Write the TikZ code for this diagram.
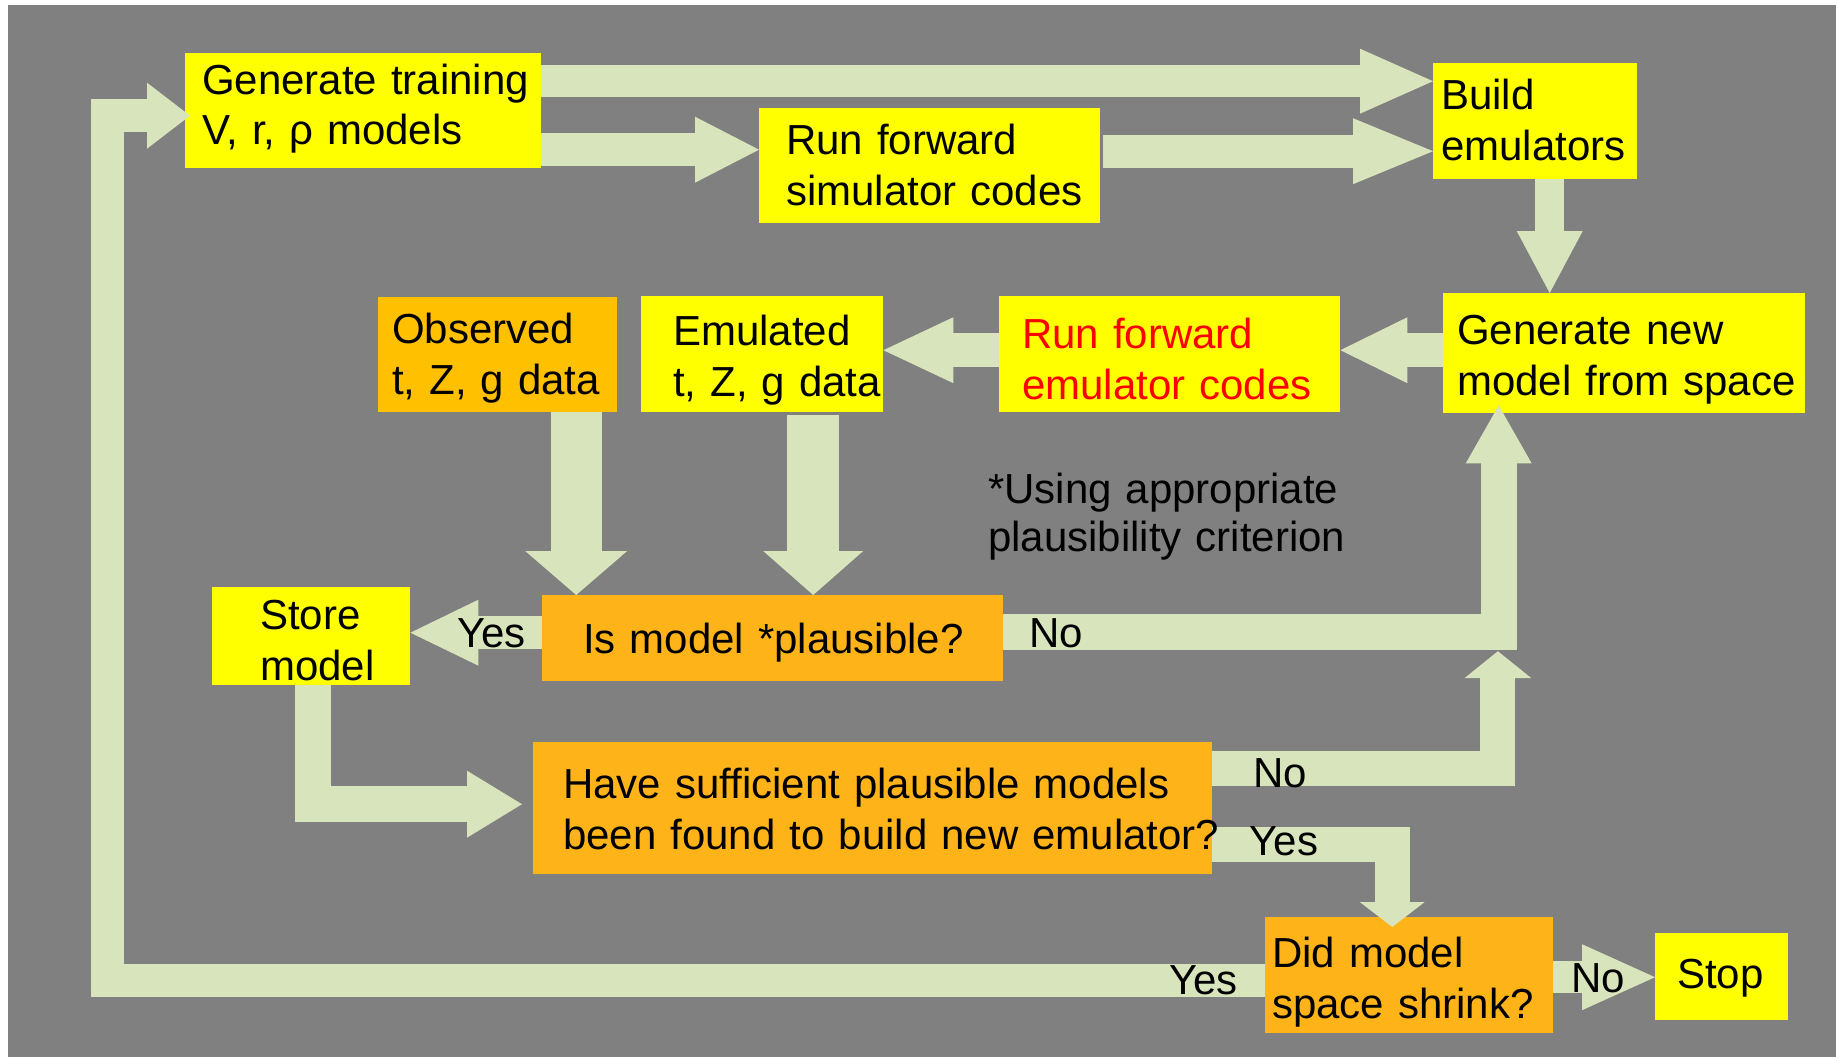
\documentclass[tikz,border=0pt]{standalone}
\usepackage{fontspec}
\setmainfont{Liberation Sans}
\usetikzlibrary{arrows.meta,calc}
\definecolor{bgc}{RGB}{128,128,128}
\definecolor{arrowc}{RGB}{216,228,188}
\definecolor{yel}{RGB}{255,255,0}
\definecolor{orgA}{RGB}{255,192,0}
\definecolor{orgB}{RGB}{254,180,24}
\definecolor{redt}{RGB}{255,0,0}
\tikzset{
  boxbase/.style={draw=none, inner sep=0pt, anchor=north west},
  ybox/.style={boxbase, fill=yel},
  obox/.style={boxbase, fill=orgA},
  qbox/.style={boxbase, fill=orgB},
  txt/.style={anchor=base west, inner sep=0pt, text width=800pt, align=left,
              font=\fontsize{42}{51}\selectfont, text=black},
  bigarrow/.style={draw=arrowc, line width=#1pt, line join=miter, line cap=butt},
  head/.style 2 args={-{Triangle[length=#1pt, width=#2pt, line width=0pt]}},
}
\begin{document}
\begin{tikzpicture}[x=1pt,y=-1pt]
\useasboundingbox (0,0) rectangle (1839,1057);
\fill[white] (0,0) rectangle (1839,1057);
\fill[bgc] (8,5) rectangle (1836,1057);

% boxes
\node[ybox, minimum width=356, minimum height=115] (gen) at (185,53) {};
\node[ybox, minimum width=341, minimum height=115] (sim) at (759,108) {};
\node[ybox, minimum width=204, minimum height=116] (build) at (1433,63) {};
\node[ybox, minimum width=362, minimum height=120] (gnew) at (1443,293) {};
\node[ybox, minimum width=341, minimum height=116] (remu) at (999,296) {};
\node[ybox, minimum width=242, minimum height=116] (emul) at (641,296) {};
\node[obox, minimum width=239, minimum height=115] (obs) at (378,297) {};
\node[ybox, minimum width=198, minimum height=98] (store) at (212,587) {};
\node[qbox, minimum width=461, minimum height=86] (ismod) at (542,595) {};
\node[qbox, minimum width=679, minimum height=132] (have) at (533,742) {};
\node[qbox, minimum width=288, minimum height=116] (did) at (1265,917) {};
\node[ybox, minimum width=133, minimum height=87] (stop) at (1655,933) {};

% connectors
\coordinate (a1) at ($(gen.east)+(0,-29.5)$);
\draw[bigarrow=32, head={73}{65}] (a1) -- (a1 -| build.west);
\coordinate (a2) at ($(gen.east)+(0,39)$);
\draw[bigarrow=33, head={64}{66}] (a2) -- (a2 -| sim.west);
\coordinate (a3) at ($(sim.east)+(3,-14.5)$);
\draw[bigarrow=33, head={80}{66}] (a3) -- (a3 -| build.west);
\coordinate (a4) at ($(build.south)+(14.5,0)$);
\draw[bigarrow=29, head={62}{66}] (a4) -- (a4 |- gnew.north);
\coordinate (a5) at ($(gnew.west)+(0,-3)$);
\draw[bigarrow=34, head={67}{66}] (a5) -- (a5 -| remu.east);
\coordinate (a6) at ($(remu.west)+(0,-4)$);
\draw[bigarrow=34, head={70}{66}] (a6) -- (a6 -| emul.east);
\coordinate (a7) at ($(obs.south)+(78.5,0)$);
\draw[bigarrow=51, head={44}{102}] (a7) -- (a7 |- ismod.north);
\coordinate (a8) at ($(emul.south)+(51,3)$);
\draw[bigarrow=52, head={44}{100}] (a8) -- (a8 |- ismod.north);
\coordinate (a9) at ($(ismod.west)+(0,-5.5)$);
\draw[bigarrow=33, head={68}{66}] (a9) -- (a9 -| store.east);
\coordinate (a10) at ($(ismod.east)+(0,-6)$);
\coordinate (b10) at ($(gnew.south)+(-125.5,-8)$);
\draw[bigarrow=36, head={58}{66}] (a10) -| (b10);
\coordinate (a11) at ($(have.east)+(0,-40)$);
\coordinate (b11) at ($(a10)+(494.5,19)$);
\draw[bigarrow=35, head={27}{67}] (a11) -| (b11);
\coordinate (a12) at ($(have.east)+(0,36)$);
\coordinate (b12) at ($(did.north)+(-17,10)$);
\draw[bigarrow=35, head={25}{65}] (a12) -| (b12);
\coordinate (a13) at ($(did.east)+(0,2)$);
\draw[bigarrow=32, head={73}{66}] (a13) -- (a13 -| stop.west);
\coordinate (a14) at ($(did.west)+(0,5)$);
\coordinate (c14) at ($(gen.west)+(-78,5)$);
\coordinate (d14) at ($(gen.west)+(5,5)$);
\draw[bigarrow=33, head={43}{66}] (a14) -| (c14) -- (d14);
\coordinate (a15) at ($(store.south)+(2,0)$);
\coordinate (b15) at ($(have.west)+(-11,-4)$);
\draw[bigarrow=36, head={55}{67}] (a15) |- (b15);

% box texts
\node[txt] (gen-t) at ($(gen.north west)+(17,41)$) {Generate training\\V, r, ρ models};
\node[txt] (sim-t) at ($(sim.north west)+(27,46)$) {Run forward\\simulator codes};
\node[txt] (build-t) at ($(build.north west)+(8,47)$) {Build\\emulators};
\node[txt] (gnew-t) at ($(gnew.north west)+(14,51)$) {Generate new\\model from space};
\node[txt, text=redt] (remu-t) at ($(remu.north west)+(23,52)$) {Run forward\\emulator codes};
\node[txt] (emul-t) at ($(emul.north west)+(32,49)$) {Emulated\\t, Z, g data};
\node[txt] (obs-t) at ($(obs.north west)+(14,46)$) {Observed\\t, Z, g data};
\node[txt] (store-t) at ($(store.north west)+(48,42)$) {Store\\model};
\node[txt] (ismod-t) at ($(ismod.north west)+(41,58)$) {Is model *plausible?};
\node[txt] (have-t) at ($(have.north west)+(30,56)$) {Have sufficient plausible models\\been found to build new emulator?};
\node[txt] (did-t) at ($(did.north west)+(7,50)$) {Did model\\space shrink?};
\node[txt] (stop-t) at ($(stop.north west)+(22,55)$) {Stop};

% connector labels
\node[txt] (l-yes1) at ($(ismod.west)+(-85,9)$) {Yes};
\node[txt] (l-no1) at ($(ismod.east)+(26,9)$) {No};
\node[txt] (l-no2) at ($(have.east)+(41,-21)$) {No};
\node[txt] (l-yes2) at ($(have.east)+(37,47)$) {Yes};
\node[txt] (l-yes3) at ($(did.west)+(-96,19)$) {Yes};
\node[txt] (l-no3) at ($(did.east)+(18,17)$) {No};

% note
\node[txt] (note) at (988,503) {*Using appropriate\\[-3pt]plausibility criterion};
\end{tikzpicture}
\end{document}
